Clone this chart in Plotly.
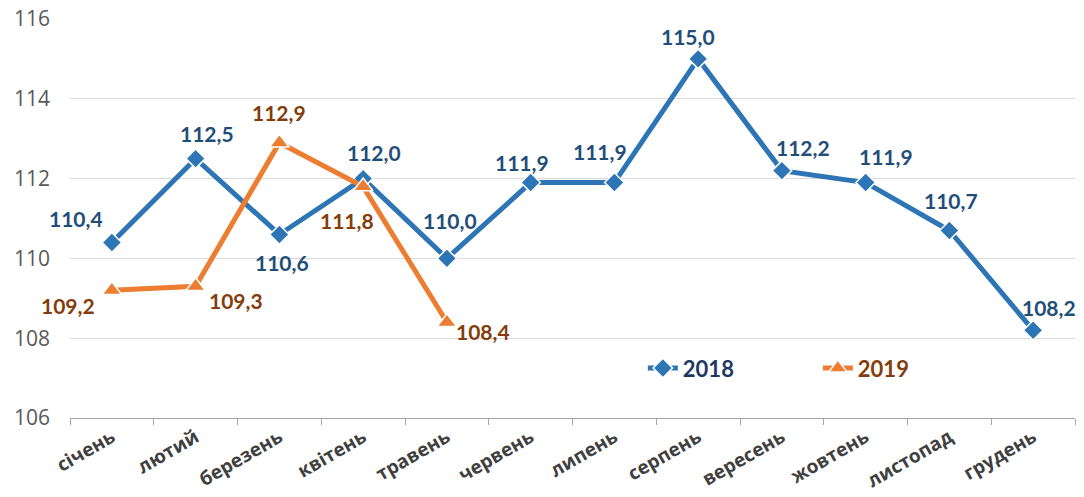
import plotly.graph_objects as go

months = ["січень", "лютий", "березень", "квітень", "травень", "червень",
          "липень", "серпень", "вересень", "жовтень", "листопад", "грудень"]
vals_2018 = [110.4, 112.5, 110.6, 112.0, 110.0, 111.9, 111.9, 115.0, 112.2, 111.9, 110.7, 108.2]
vals_2019 = [109.2, 109.3, 112.9, 111.8, 108.4]
y_ticks = [106, 108, 110, 112, 114, 116]

# label offsets (pixels) relative to each point
off_2018 = [(-36, 24), (11, 25), (3, -28), (11, 26), (3, 38), (-9, 20),
            (-14, 31), (-10, 22), (21, 23), (20, 26), (2, 30), (16, 23)]
off_2019 = [(-44, -15), (40, -14), (0, 30), (-16, -34), (36, -9)]

C18, C19 = "#2E75B6", "#ED7D31"
T18, T19 = "#1F4E79", "#843C0C"

fig = go.Figure()
fig.add_trace(go.Scatter(
    x=months, y=vals_2018, mode="lines+markers",
    name="<b>2018</b>",
    line=dict(color=C18, width=5),
    marker=dict(symbol="diamond", size=15, color=C18, line=dict(color="white", width=1.5)),
))
fig.add_trace(go.Scatter(
    x=months[:len(vals_2019)], y=vals_2019, mode="lines+markers",
    name="<b><span style='color:#843C0C'>2019</span></b>",
    line=dict(color=C19, width=5),
    marker=dict(symbol="triangle-up", size=17, color=C19, line=dict(color="white", width=1.5)),
))

def fmt(v):
    return f"{v:.1f}".replace(".", ",")

anns = []
for m, v, (dx, dy) in zip(months, vals_2018, off_2018):
    anns.append(dict(x=m, y=v, text=f"<b>{fmt(v)}</b>", showarrow=False,
                     xshift=dx, yshift=dy, font=dict(family="Lato", size=21, color=T18)))
for m, v, (dx, dy) in zip(months, vals_2019, off_2019):
    anns.append(dict(x=m, y=v, text=f"<b>{fmt(v)}</b>", showarrow=False,
                     xshift=dx, yshift=dy, font=dict(family="Lato", size=21, color=T19)))

fig.update_layout(
    width=1076, height=489,
    margin=dict(l=62, r=9, t=11, b=79),
    paper_bgcolor="white", plot_bgcolor="white",
    annotations=anns,
    showlegend=True,
    legend=dict(orientation="h", x=0.570, y=0.125, xanchor="left", yanchor="middle",
                font=dict(family="Lato", size=22, color="#1F3864"),
                entrywidth=130, bgcolor="rgba(0,0,0,0)"),
    xaxis=dict(
        type="category", tickangle=-30, showgrid=False, automargin=False,
        showline=True, linecolor="#A6A6A6", linewidth=1,
        ticks="outside", tickson="boundaries", ticklen=6, tickcolor="#A6A6A6",
        tickfont=dict(family="Open Sans", size=19, color="#404040", weight="bold"),
        range=[-0.5, 11.5],
    ),
    yaxis=dict(
        range=[106, 116], tickvals=y_ticks, automargin=False,
        showgrid=True, gridcolor="#D9D9D9", gridwidth=1,
        zeroline=False, showline=False,
        tickfont=dict(family="Open Sans", size=21, color="#595959"),
        ticklabelstandoff=19, ticklabeloverflow="allow",
    ),
)
fig.write_html("out.html")
